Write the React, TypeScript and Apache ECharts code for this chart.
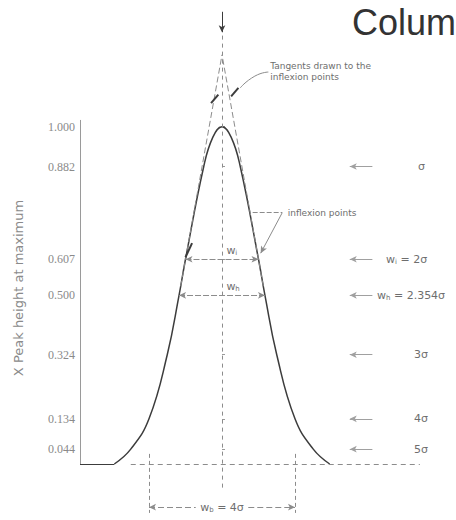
import React, { useEffect, useRef } from "react";
import * as echarts from "echarts";

// ---- data (x in units of sigma, y as fraction of peak height) ----
const tickValues = [0.044, 0.134, 0.324, 0.5, 0.607, 0.882, 1.0];
const curveX = [-2.95, -2.5, -2.0, -1.5, -1.177, -1.0, -0.5, -0.25, 0, 0.25, 0.5, 1.0, 1.177, 1.5, 2.0, 2.5, 2.95];
const curveY = [0.0, 0.044, 0.134, 0.324, 0.5, 0.607, 0.882, 0.969, 1.0, 0.969, 0.882, 0.607, 0.5, 0.324, 0.134, 0.044, 0.0];
const tangentApex = 1.213;
const inflexionX = 1.0;
const inflexionY = 0.607;
const halfHeightX = 1.177;
const halfHeightY = 0.5;
const baseWidthX = 2.0;
const widthLevels = [0.882, 0.607, 0.5, 0.324, 0.134, 0.044];
const widthLabels = [
  "σ",
  "{w|w}{s|i} = 2σ",
  "{w|w}{s|h} = 2.354σ",
  "3σ",
  "4σ",
  "5σ",
];
const titleText = "Colum";
const yAxisTitle = "X Peak height at maximum";

// ---- layout ----
const W = 456;
const H = 520;
const sigmaPx = 36.5;
const unitPx = 337.3;
const centerPx = 222;
const baselinePx = 464;
const gridLeft = 80;
const yMin = -0.15;
const yMax = 1.36;
const gridTop = baselinePx - yMax * unitPx;
const gridBottom = H - (baselinePx - yMin * unitPx);
const xMin = (gridLeft - centerPx) / sigmaPx;
const xMax = (W - centerPx) / sigmaPx;
const labelLeftPx = [418, 386, 377, 414, 414, 414];

export default function App() {
  const ref = useRef<HTMLDivElement>(null);
  useEffect(() => {
    const chart = echarts.init(ref.current!, null, { renderer: "svg" });
    const gray = "#8c8c8c";
    const dark = "#3c3c3c";
    const textGray = "#6e6e6e";
    const dash = { color: gray, width: 1, type: [5, 4] as any };
    const seg = (a: number[], b: number[], ls: any, s0 = "none", s1 = "none") => [
      { coord: a, symbol: s0, lineStyle: ls },
      { coord: b, symbol: s1 },
    ];
    const tangentAt = (y: number) => baseWidthX - (baseWidthX * y) / tangentApex;
    const marks: any[] = [];
    // y axis line
    marks.push(seg([xMin, 0], [xMin, 1.02], { color: "#9a9a9a", width: 1, type: "solid" }));
    // baseline solid and dashed
    marks.push(seg([xMin, 0], [curveX[0], 0], { color: dark, width: 1.2, type: "solid" }));
    marks.push(seg([curveX[0] + 0.45, 0], [5.42, 0], dash));
    // centre line
    marks.push(seg([0, -0.07], [0, 1.35], { ...dash, type: [4, 4] }));
    marks.push(seg([0, 1.34], [0, 1.28], { color: dark, width: 1, type: "solid" }, "none", "arrow"));
    // tangents (drawn from the inflexion points up to their crossing)
    const ty = inflexionY - 0.08;
    marks.push(seg([-tangentAt(ty), ty], [0, tangentApex], { ...dash, type: [6, 3] }));
    marks.push(seg([tangentAt(ty), ty], [0, tangentApex], { ...dash, type: [6, 3] }));
    // base width verticals
    marks.push(seg([-baseWidthX, 0.03], [-baseWidthX, -0.145], { ...dash, type: [4, 3] }));
    marks.push(seg([baseWidthX, 0.03], [baseWidthX, -0.145], { ...dash, type: [4, 3] }));
    // base width arrow (split around its label)
    marks.push(seg([-baseWidthX, -0.128], [-0.72, -0.128], { ...dash, type: [6, 3] }, "arrow", "none"));
    marks.push(seg([0.72, -0.128], [baseWidthX, -0.128], { ...dash, type: [6, 3] }, "none", "arrow"));
    // inner width arrows
    marks.push(seg([-inflexionX, inflexionY], [inflexionX, inflexionY], { ...dash, type: [6, 2] }, "arrow", "arrow"));
    marks.push(seg([-halfHeightX, halfHeightY], [halfHeightX, halfHeightY], { ...dash, type: [6, 2] }, "arrow", "arrow"));
    // right side arrows
    widthLevels.forEach((lv) => {
      marks.push(seg([3.5, lv], [4.12, lv], { color: "#a0a0a0", width: 1, type: "solid" }, "arrow", "none"));
    });
    // inflexion leader
    marks.push(seg([0.84, 0.745], [1.65, 0.745], { ...dash, type: [5, 2] }));
    marks.push(seg([1.65, 0.745], [1.06, 0.625], { color: gray, width: 1, type: "solid" }, "none", "arrow"));
    marks.push(seg([-1.0, 0.613], [-0.82, 0.655], { color: dark, width: 2, type: "solid" }));
    // tangent marks
    marks.push(seg([-0.3, 1.07], [-0.1, 1.095], { color: dark, width: 2, type: "solid" }));
    marks.push(seg([0.25, 1.09], [0.45, 1.115], { color: dark, width: 2, type: "solid" }));

    chart.setOption({
      animation: false,
      grid: { left: gridLeft, right: 0, top: gridTop, bottom: gridBottom },
      xAxis: {
        type: "value",
        min: xMin,
        max: xMax,
        show: false,
      },
      yAxis: {
        type: "value",
        min: yMin,
        max: yMax,
        splitLine: { show: false },
        axisLine: { show: false },
        axisTick: {
          show: true,
          length: 3,
          inside: true,
          customValues: tickValues,
          lineStyle: { color: "#9a9a9a" },
        },
        axisLabel: {
          customValues: tickValues,
          formatter: (v: number) => v.toFixed(3),
          color: "#8a8a8a",
          fontFamily: "Liberation Serif",
          fontSize: 12,
          margin: 5,
        },
      },
      series: [
        {
          type: "line",
          data: curveX.map((x, i) => [x, curveY[i]]),
          smooth: 0.45,
          symbol: "none",
          clip: false,
          lineStyle: { color: dark, width: 1.5 },
          markLine: {
            silent: true,
            symbolSize: [5, 7],
            label: { show: false },
            data: marks,
          },
        },
        {
          type: "line",
          data: [
            [1.27, 1.162],
            [0.9, 1.15],
            [0.5, 1.115],
          ],
          smooth: 0.6,
          symbol: "none",
          clip: false,
          lineStyle: { color: gray, width: 1 },
        },
      ],
    });

    const p = (x: number, y: number) => chart.convertToPixel({ gridIndex: 0 }, [x, y]) as number[];
    const font = '9px "DejaVu Sans"';
    const rich = {
      w: { fontSize: 11, fontFamily: "DejaVu Sans", fill: textGray },
      s: { fontSize: 7, fontFamily: "DejaVu Sans", fill: textGray, padding: [6, 0, 0, 0] },
    };
    const graphics: any[] = [];
    graphics.push({
      type: "text",
      x: 352,
      y: 4,
      style: { text: titleText, font: '36px "Liberation Sans"', fill: "#333" },
    });
    graphics.push({
      type: "text",
      x: 18,
      y: 288,
      rotation: Math.PI / 2,
      style: {
        text: yAxisTitle,
        font: '13px "DejaVu Sans"',
        fill: "#8a8a8a",
        align: "center",
        verticalAlign: "middle",
      },
    });
    const tp = p(1.32, 1.163);
    graphics.push({
      type: "text",
      x: tp[0],
      y: tp[1],
      style: { text: "Tangents drawn to the\ninflexion points", font, fill: textGray, verticalAlign: "middle", lineHeight: 11 },
    });
    const ip = p(1.8, 0.745);
    graphics.push({
      type: "text",
      x: ip[0],
      y: ip[1],
      style: { text: "inflexion points", font, fill: textGray, verticalAlign: "middle" },
    });
    widthLevels.forEach((lv, i) => {
      const q = p(0, lv);
      graphics.push({
        type: "text",
        x: labelLeftPx[i],
        y: q[1],
        style: { text: widthLabels[i], font: '11px "DejaVu Sans"', fill: textGray, verticalAlign: "middle", rich },
      });
    });
    const wi = p(0.12, inflexionY);
    graphics.push({
      type: "text",
      x: wi[0],
      y: wi[1] - 9,
      style: { text: "{w|w}{s|i}", verticalAlign: "middle", rich },
    });
    const wh = p(0.12, halfHeightY);
    graphics.push({
      type: "text",
      x: wh[0],
      y: wh[1] - 9,
      style: { text: "{w|w}{s|h}", verticalAlign: "middle", rich },
    });
    const wb = p(0, -0.128);
    graphics.push({
      type: "text",
      x: wb[0],
      y: wb[1],
      style: {
        text: "{w|w}{s|b} = 4σ",
        font: '11px "DejaVu Sans"',
        fill: textGray,
        align: "center",
        verticalAlign: "middle",
        rich,
      },
    });
    chart.setOption({ graphic: graphics });
    return () => chart.dispose();
  }, []);
  return (
    <div
      ref={ref}
      style={{ position: "fixed", left: 0, top: 0, width: W, height: H, background: "#fff" }}
    />
  );
}
